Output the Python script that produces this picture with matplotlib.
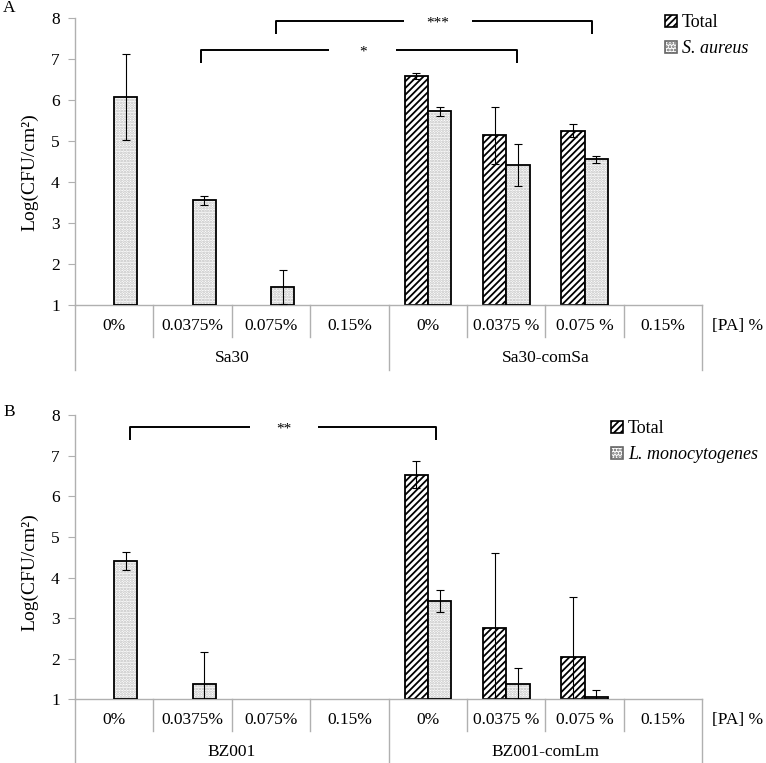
import numpy as np
import matplotlib
matplotlib.use("Agg")
import matplotlib.pyplot as plt
import matplotlib.patches as mpatches
import matplotlib.transforms as mtransforms

plt.rcParams['font.family'] = ['Liberation Serif', 'DejaVu Serif']
plt.rcParams['hatch.linewidth'] = 1.3

nan = np.nan

# data
conc = ['0%', '0.0375%', '0.075%', '0.15%', '0%', '0.0375 %', '0.075 %', '0.15%']

groups_a = ['Sa30', 'Sa30-comSa']
total_a = [nan, nan, nan, nan, 6.58, 5.13, 5.25, nan]
total_a_err = [0, 0, 0, 0, 0.07, 0.70, 0.15, 0]
sa = [6.07, 3.55, 1.45, nan, 5.72, 4.41, 4.55, nan]
sa_err = [1.04, 0.12, 0.42, 0, 0.11, 0.51, 0.08, 0]

groups_b = ['BZ001', 'BZ001-comLm']
total_b = [nan, nan, nan, nan, 6.53, 2.76, 2.04, nan]
total_b_err = [0, 0, 0, 0, 0.33, 1.84, 1.47, 0]
lm = [4.40, 1.38, nan, nan, 3.43, 1.38, 1.07, nan]
lm_err = [0.22, 0.79, 0, 0, 0.27, 0.39, 0.15, 0]

W, H = 766, 763
fig = plt.figure(figsize=(W / 100, H / 100), dpi=100)

GRAY = '#b0b0b0'
BW = 0.297


def fy(px):
    return 1 - px / H


def draw_bars(ax, vals, errs, offset, kind):
    x = np.arange(len(vals)) + offset
    v = np.array(vals, dtype=float)
    e = np.array(errs, dtype=float)
    ok = ~np.isnan(v)
    if kind == 'total':
        ax.bar(x[ok], v[ok] - 1, bottom=1, width=BW, color='white',
               edgecolor='black', hatch='/////', linewidth=1.3, zorder=2)
    else:
        # dotted fill in grey, then a black outline on top
        ax.bar(x[ok], v[ok] - 1, bottom=1, width=BW, color='white',
               edgecolor='#bdbdbd', hatch='......', linewidth=0, zorder=2)
        ax.bar(x[ok], v[ok] - 1, bottom=1, width=BW, color='none',
               edgecolor='black', linewidth=1.3, zorder=3)
    ax.errorbar(x[ok], v[ok], yerr=e[ok], fmt='none', ecolor='black',
                elinewidth=0.8, capsize=3, capthick=0.8, zorder=4)


def panel(rect, total, total_err, sp, sp_err, groups, sp_name, letter,
          letter_y, row1_y, row2_y, sep1_y, sep2_y, ylab_y, leg_xy):
    ax = fig.add_axes(rect)
    draw_bars(ax, total, total_err, -BW / 2, 'total')
    draw_bars(ax, sp, sp_err, BW / 2, 'sp')
    ax.set_xlim(-0.5, 7.5)
    ax.set_ylim(1, 8)
    ax.set_yticks(range(1, 9))
    ax.set_xticks([])
    for s in ['top', 'right']:
        ax.spines[s].set_visible(False)
    for s in ['left', 'bottom']:
        ax.spines[s].set_color(GRAY)
        ax.spines[s].set_linewidth(1.0)
    ax.tick_params(axis='y', direction='out', length=5, color=GRAY,
                   labelsize=12.5, pad=6)

    # two-row category axis
    tr = mtransforms.blended_transform_factory(ax.transData, fig.transFigure)
    ax_y = rect[1]
    for i in range(9):
        bottom = sep2_y if i in (0, 4, 8) else sep1_y
        ax.plot([i - 0.5, i - 0.5], [ax_y, fy(bottom)], color=GRAY, lw=1.0,
                transform=tr, clip_on=False)
    for i, c in enumerate(conc):
        ax.text(i, fy(row1_y), c, transform=tr, ha='center', va='center',
                fontsize=12.5)
    for g, gx in zip(groups, [1.5, 5.5]):
        ax.text(gx, fy(row2_y), g, transform=tr, ha='center', va='center',
                fontsize=12.5)
    fig.text(712 / W, fy(row1_y), '[PA] %', ha='left', va='center',
             fontsize=12.5)
    fig.text(3 / W, fy(letter_y), letter, ha='left', va='center', fontsize=12.5)
    fig.text(30 / W, fy(ylab_y), 'Log(CFU/cm²)', rotation=90, ha='center',
             va='center', fontsize=14)

    h1 = mpatches.Patch(facecolor='white', edgecolor='black', hatch='/////',
                        linewidth=1.2)
    h2 = mpatches.Patch(facecolor='white', edgecolor='#666666', hatch='.....',
                        linewidth=1.2)
    leg = fig.legend([h1, h2], ['Total', sp_name], loc='upper left',
                     bbox_to_anchor=(leg_xy[0] / W, fy(leg_xy[1])),
                     frameon=False, fontsize=13, handlelength=0.65,
                     handleheight=0.65, handletextpad=0.3, labelspacing=0.5,
                     borderpad=0, borderaxespad=0)
    leg.get_texts()[1].set_style('italic')
    return ax


def bracket(ax, x1, x2, y, drop, label, g1, g2, tx):
    kw = dict(color='black', lw=1.4, clip_on=False, solid_capstyle='butt')
    ax.plot([x1, x1, g1], [y - drop, y, y], **kw)
    ax.plot([g2, x2, x2], [y, y, y - drop], **kw)
    ax.text(tx, y - 0.05, label, ha='center', va='center', fontsize=11)


ax_a = panel([75 / W, fy(305.3), (702.3 - 75) / W, (305.3 - 17.5) / H],
             total_a, total_a_err, sa, sa_err, groups_a, 'S. aureus', 'A',
             8, 326, 358, 337, 370, 172, (665, 14))
bracket(ax_a, 2.06, 6.09, 7.92, 0.32, '***', 3.70, 4.56, 4.12)
bracket(ax_a, 1.11, 5.14, 7.20, 0.30, '*', 2.74, 3.60, 3.17)

ax_b = panel([75 / W, fy(699.4), (702.3 - 75) / W, (699.4 - 415) / H],
             total_b, total_b_err, lm, lm_err, groups_b, 'L. monocytogenes',
             'B', 412, 720, 752, 731, 763, 572, (611, 420))
bracket(ax_b, 0.20, 4.10, 7.71, 0.33, '**', 1.73, 2.60, 2.17)

fig.savefig('out.png', dpi=100)
